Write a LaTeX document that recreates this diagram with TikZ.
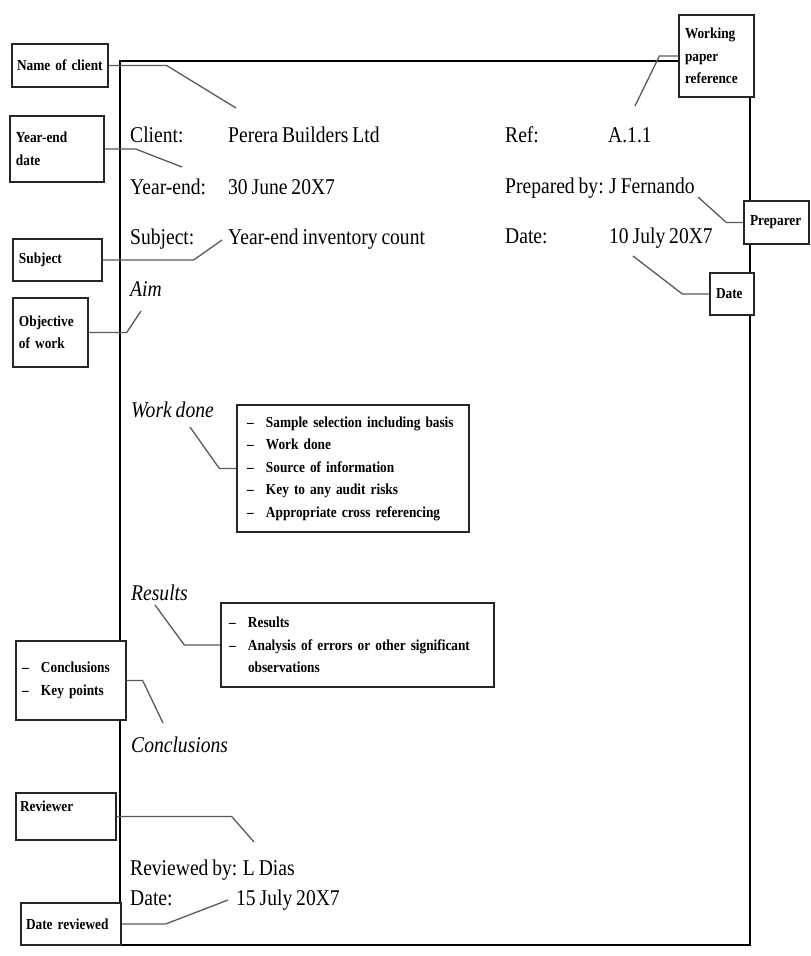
\documentclass[tikz,border=0pt]{standalone}
\usepackage{fontspec}
\setmainfont{Liberation Serif}[FakeStretch=0.87,WordSpace=0.8]
\newcommand{\dashitem}{\makebox[19pt][l]{--}}
\tikzset{
  note/.style={draw=black!85,line width=1.3pt,fill=white,align=left,inner xsep=6pt,inner ysep=0pt,
    font=\fontsize{15.3}{22.5}\selectfont\bfseries},
  lead/.style={draw=black!65,line width=1.3pt},
  body/.style={anchor=base west,inner sep=0pt,font=\fontsize{22.5}{27}\selectfont},
  head/.style={body,font=\fontsize{22.5}{27}\selectfont\itshape}
}
\begin{document}
\begin{tikzpicture}[x=1pt,y=-1pt]
  \useasboundingbox (0,0) rectangle (811,956);
  \draw[line width=1.6pt] (120,61) rectangle (750,945);

  \node[body] (clientkey) at (130,142) {Client:};
  \node[body] (clientval) at (228,142) {Perera Builders Ltd};
  \node[body] (yekey) at (130,194) {Year-end:};
  \node[body] (yeval) at (228,194) {30 June 20X7};
  \node[body] (subjkey) at (130,244) {Subject:};
  \node[body] (subjval) at (228,244) {Year-end inventory count};
  \node[body] (refkey) at (505,142) {Ref:};
  \node[body] (refval) at (608,142) {A.1.1};
  \node[body] (prepby) at (505,193) {Prepared by: J Fernando};
  \node[body] (datekey) at (505,243) {Date:};
  \node[body] (dateval) at (609,243) {10 July 20X7};
  \node[head] (aim) at (130,296) {Aim};
  \node[head] (workdone) at (131,417) {Work done};
  \node[head] (results) at (131,600) {Results};
  \node[head] (conclusions) at (131,752) {Conclusions};
  \node[body] (revby) at (130,875) {Reviewed by: L Dias};
  \node[body] (revdatekey) at (130,905) {Date:};
  \node[body] (revdateval) at (236,905) {15 July 20X7};

  \node[note,text width=86pt,minimum height=43pt,inner xsep=5pt] (clientbox) at (60,65.5) {Name of client};
  \node[note,text width=82pt,minimum height=66pt] (yebox) at (57,149) {Year-end\\date};
  \node[note,text width=77pt,minimum height=42pt] (subjbox) at (57.5,260) {Subject};
  \node[note,text width=63pt,minimum height=69pt] (objbox) at (50.5,332.5) {Objective\\of work};
  \node[note,text width=63pt,minimum height=82pt] (wpbox) at (716.5,56) {Working\\paper\\reference};
  \node[note,text width=53pt,minimum height=43pt] (prepbox) at (776.5,222.5) {Preparer};
  \node[note,text width=32pt,minimum height=42pt] (datebox) at (732,294) {Date};
  \node[note,text width=212pt,minimum height=127pt,inner xsep=10pt] (workbox) at (353,468.5)
    {\dashitem Sample selection including basis\\\dashitem Work done\\\dashitem Source of information\\
     \dashitem Key to any audit risks\\\dashitem Appropriate cross referencing};
  \node[note,text width=257pt,minimum height=84pt,inner xsep=8pt] (resbox) at (357.5,645)
    {\dashitem Results\\\dashitem Analysis of errors or other significant\\\hspace*{19pt}observations};
  \node[note,text width=98pt,minimum height=79pt] (conclbox) at (71,680.5)
    {\dashitem Conclusions\\\dashitem Key points};
  \node[note,text width=92pt,minimum height=47pt,inner xsep=4pt,text depth=20pt] (revbox) at (66,816.5) {Reviewer};
  \node[note,text width=90pt,minimum height=42pt,inner xsep=5pt] (drevbox) at (71,924) {Date reviewed};

  \coordinate (clienttip) at (236,108);
  \coordinate (yetip) at (182,167);
  \coordinate (subjtip) at (222,240);
  \coordinate (objtip) at (141,311);
  \coordinate (wptip) at (635,106);
  \coordinate (preptip) at (698,197);
  \coordinate (datetip) at (633,256);
  \coordinate (worktip) at (190,427);
  \coordinate (restip) at (155,605);
  \coordinate (concltip) at (163,723);
  \coordinate (revtip) at (254,842);
  \coordinate (drevtip) at (228,900);

  \draw[lead] (clientbox.east) -- ++(58,0) -- (clienttip);
  \draw[lead] (yebox.east) -- ++(31,0) -- (yetip);
  \draw[lead] (subjbox.east) -- ++(91,0) -- (subjtip);
  \draw[lead] (objbox.east) -- ++(38,0) -- (objtip);
  \draw[lead] (wpbox.west) -- ++(-19,0) -- (wptip);
  \draw[lead] (prepbox.west) -- ++(-17,0) -- (preptip);
  \draw[lead] (datebox.west) -- ++(-27,0) -- (datetip);
  \draw[lead] (workbox.west) -- ++(-17,0) -- (worktip);
  \draw[lead] (resbox.west) -- ++(-36,0) -- (restip);
  \draw[lead] (conclbox.east) -- ++(16,0) -- (concltip);
  \draw[lead] (revbox.east) -- ++(115,0) -- (revtip);
  \draw[lead] (drevbox.east) -- ++(44,0) -- (drevtip);
\end{tikzpicture}
\end{document}
